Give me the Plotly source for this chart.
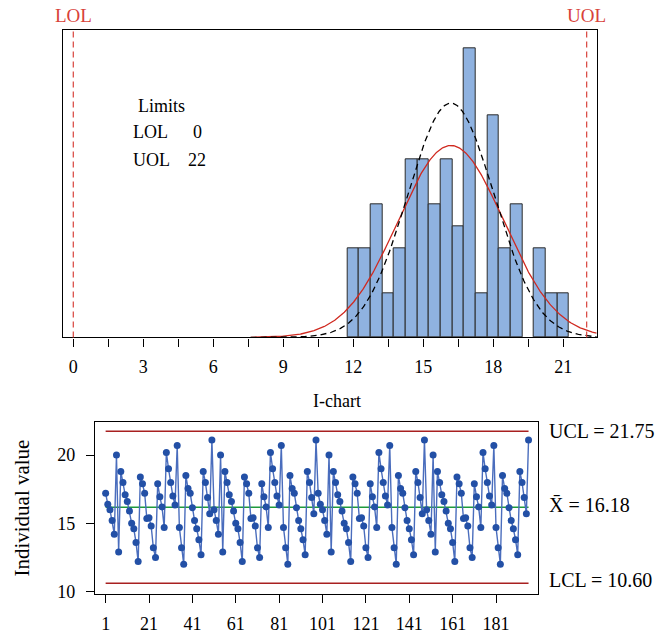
import numpy as np
import plotly.graph_objects as go

# ---------------- data ----------------
# I-chart individual values, in observation order (four segments)
segment_1 = [17.2, 16.4, 16.0, 15.2, 14.2, 20.0, 12.9, 18.8, 18.0, 17.1,
             16.6, 15.9, 15.0, 14.6, 13.6, 12.2, 18.4, 17.9, 17.2, 15.35,
             15.4, 14.8, 13.2, 12.5, 17.9, 16.95, 16.2, 14.7, 20.2, 19.0,
             18.0, 17.0, 16.35, 20.7, 14.7, 13.2, 12.0, 18.5, 17.55, 17.2,
             16.15, 15.2, 14.6, 13.8, 12.7, 18.8, 18.0, 16.9, 15.7, 21.1]
segment_2 = [16.0, 15.2, 14.2, 20.0, 12.9, 18.8, 18.0, 17.1,
             16.6, 15.9, 15.0, 14.6, 13.6, 12.2, 18.4, 17.9, 17.2, 15.35,
             15.4, 14.8, 13.2, 12.5, 17.9, 16.95, 16.2, 14.7, 20.2, 19.0,
             18.0, 17.0, 16.35, 20.7, 14.7, 13.2, 12.0, 18.5, 17.55, 17.2,
             16.15, 15.2, 14.6, 13.8, 12.7, 18.8, 18.0, 16.9, 15.7, 21.1]
segment_3 = [17.2, 16.4, 16.0, 15.2, 14.2, 20.0, 12.9, 18.8, 18.0, 17.1,
             16.6, 15.9, 15.0, 14.6, 13.6, 12.2, 18.4, 17.9, 17.2, 15.35,
             15.4, 14.8, 13.2, 12.5, 17.9, 16.95, 16.2, 14.7, 20.2, 19.0,
             18.0, 17.0, 16.35, 20.7, 14.7, 13.2, 12.0, 18.5, 17.55, 17.2,
             16.15, 15.2, 14.6, 13.8, 12.7, 18.8, 18.0, 16.9, 15.7, 21.1]
segment_4 = [16.0, 15.2, 14.2, 20.0, 12.9, 18.8, 18.0, 17.1,
             16.6, 15.9, 15.0, 14.6, 13.6, 12.2, 18.4, 17.9, 17.2, 15.35,
             15.4, 14.8, 13.2, 12.5, 17.9, 16.95, 16.2, 14.7, 20.2, 19.0,
             18.0, 17.0, 16.35, 20.7, 14.7, 13.2, 12.0, 18.5, 17.55, 17.2,
             16.15, 15.2, 14.6, 13.8, 12.7, 18.8, 18.0, 16.9, 15.7, 21.1]

LOL, UOL = 0, 22
mean_value = 16.18
UCL, LCL = 21.75, 10.60

hist_tick_vals = [0, 1.5, 3, 4.5, 6, 7.5, 9, 10.5, 12, 13.5, 15, 16.5, 18, 19.5, 21]
hist_tick_text = ["0", "", "3", "", "6", "", "9", "", "12", "", "15", "", "18", "", "21"]
ichart_x_ticks = [1, 21, 41, 61, 81, 101, 121, 141, 161, 181]
ichart_y_ticks = [10, 15, 20]

# ---------------- derived ----------------
values = segment_1 + segment_2 + segment_3 + segment_4
n = len(values)
obs = list(range(1, n + 1))
bin_size = 0.5
sigma_within = (UCL - mean_value) / 3
sigma_overall = float(np.std(values, ddof=1))
xs = np.linspace(7.6, 22.43, 400)
def normal(x, mu, s):
    return n * bin_size * np.exp(-0.5 * ((x - mu) / s) ** 2) / (s * np.sqrt(2 * np.pi))

W, H = 657, 644
def fx(px): return px / W
def fy(py): return 1 - py / H

FONT = "Liberation Serif, Times New Roman, serif"
RED = "#d8423a"

fig = go.Figure()
fig.add_trace(go.Histogram(
    x=values, xbins=dict(start=11.75, end=21.25, size=bin_size),
    marker=dict(color="#8fb2e0", line=dict(color="#2a2a2a", width=1)),
    xaxis="x", yaxis="y", showlegend=False))
fig.add_trace(go.Scatter(x=xs, y=normal(xs, mean_value, sigma_overall), mode="lines",
                         line=dict(color="#d02a20", width=1.3), xaxis="x", yaxis="y",
                         showlegend=False, hoverinfo="skip"))
fig.add_trace(go.Scatter(x=xs, y=normal(xs, mean_value, sigma_within), mode="lines",
                         line=dict(color="black", width=1.3, dash="6px,4px"), xaxis="x", yaxis="y",
                         showlegend=False, hoverinfo="skip"))

# I-chart
for yv, col in [(UCL, "#a82020"), (LCL, "#a82020"), (mean_value, "#1e9a3c")]:
    fig.add_trace(go.Scatter(x=[1, n], y=[yv, yv], mode="lines", line=dict(color=col, width=1.5),
                             xaxis="x2", yaxis="y2", showlegend=False, hoverinfo="skip"))
fig.add_trace(go.Scatter(x=obs, y=values, mode="lines+markers",
                         line=dict(color="#4a6dbd", width=1.4),
                         marker=dict(color="#2350a6", size=7),
                         xaxis="x2", yaxis="y2", showlegend=False))

shapes = []
for lim in (LOL, UOL):
    shapes.append(dict(type="line", xref="x", yref="y domain", x0=lim, x1=lim, y0=0, y1=1,
                       line=dict(color=RED, width=1.2, dash="6px,4px")))

def txt(text, px, py, size, anchor="center", **kw):
    return dict(text=text, x=fx(px), y=fy(py), xref="paper", yref="paper", xanchor=anchor,
                yanchor="middle", showarrow=False,
                font=dict(size=size, family=FONT, color=kw.pop("color", "black")), **kw)

annotations = [
    dict(text="LOL", x=LOL, xref="x", y=fy(16), yref="paper", yanchor="middle", xanchor="center",
         showarrow=False, font=dict(color=RED, size=19, family=FONT)),
    dict(text="UOL", x=UOL, xref="x", y=fy(16), yref="paper", yanchor="middle", xanchor="center",
         showarrow=False, font=dict(color=RED, size=19, family=FONT)),
    txt("Limits", 136, 107, 18, "left"),
    txt("LOL", 131, 134, 18, "left"),
    txt(str(LOL), 197, 134, 18),
    txt("UOL", 131, 162, 18, "left"),
    txt(str(UOL), 197, 162, 18),
    txt("I-chart", 337, 406, 18),
    txt("Individual value", 22, 515, 21, textangle=-90),
    dict(text="UCL = %.2f" % UCL, x=fx(547), y=UCL, xref="paper", yref="y2", xanchor="left",
         yanchor="middle", showarrow=False, font=dict(size=20, family=FONT, color="black")),
    dict(text="X\u0304 = %.2f" % mean_value, x=fx(547), y=mean_value, xref="paper", yref="y2", xanchor="left",
         yanchor="middle", showarrow=False, font=dict(size=20, family=FONT, color="black"), yshift=2),
    dict(text="LCL = %.2f" % LCL, x=fx(547), y=LCL, xref="paper", yref="y2", xanchor="left",
         yanchor="middle", showarrow=False, font=dict(size=20, family=FONT, color="black"), yshift=3),
]

axis_common = dict(showline=True, linecolor="black", linewidth=1.3, mirror=True, showgrid=False,
                   zeroline=False, tickfont=dict(size=18, family=FONT, color="black"),
                   ticks="outside", tickcolor="black", ticklen=8, tickwidth=1)

fig.update_layout(
    width=W, height=H, margin=dict(l=0, r=0, t=0, b=0),
    paper_bgcolor="white", plot_bgcolor="white", bargap=0,
    font=dict(family=FONT, color="black"),
    xaxis=dict(domain=[fx(62.7), fx(596.7)], range=[-0.454, 22.43], anchor="y",
               tickmode="array", tickvals=hist_tick_vals, ticktext=hist_tick_text, **axis_common),
    yaxis=dict(domain=[fy(341.7), fy(30.7)], range=[0, 27.6], anchor="x",
               showline=True, linecolor="black", linewidth=1.3, mirror=True, showgrid=False,
               zeroline=False, showticklabels=False, ticks=""),
    xaxis2=dict(domain=[fx(95), fx(538.3)], range=[-3.9, 200.5], anchor="y2",
                tickmode="array", tickvals=ichart_x_ticks, **axis_common),
    yaxis2=dict(domain=[fy(601.7), fy(427.7)], range=[9.8, 22.4], anchor="x2",
                tickmode="array", tickvals=ichart_y_ticks, **axis_common),
    shapes=shapes, annotations=annotations, showlegend=False,
)
fig.update_xaxes(ticklabelstandoff=5)
fig.update_yaxes(ticklabelstandoff=7)
page_fix = (
    "var d=document.documentElement,b=document.body;"
    "d.style.margin='0';d.style.padding='0';d.style.overflow='hidden';d.style.height='644px';"
    "b.style.margin='0';b.style.padding='0';b.style.overflow='hidden';b.style.height='644px';"
    "b.style.lineHeight='0';"
)
fig.write_html("out.html", config={"displayModeBar": False}, post_script=page_fix)
